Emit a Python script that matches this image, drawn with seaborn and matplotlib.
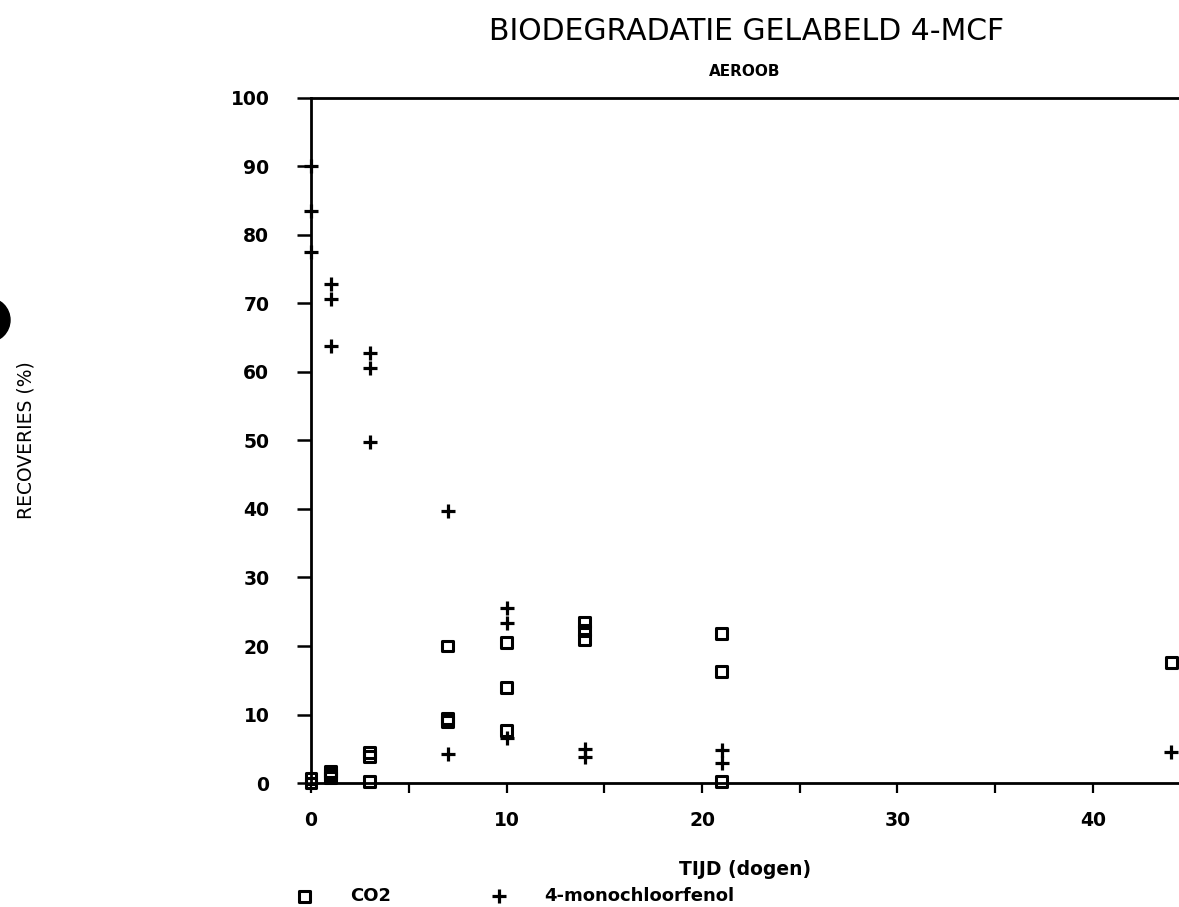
import matplotlib
matplotlib.use("Agg")
import matplotlib.pyplot as plt
import seaborn as sns
import pandas as pd
from matplotlib.patches import Ellipse

# CO2 recovery (%) per sampling day
co2_days = [0, 0, 1, 1, 1, 3, 3, 3, 7, 7, 7, 10, 10, 10, 14, 14, 14, 21, 21, 21, 44]
co2_vals = [0.6, 0.0, 1.7, 1.2, 0.8, 4.4, 3.9, 0.2, 20.0, 9.4, 9.0,
            20.5, 14.0, 7.6, 23.4, 22.2, 21.0, 21.8, 16.3, 0.2, 17.6]

# 4-monochloorfenol recovery (%) per sampling day
mcf_days = [0, 0, 0, 1, 1, 1, 3, 3, 3, 7, 7, 10, 10, 10, 14, 14, 21, 21, 44]
mcf_vals = [90.0, 83.5, 77.5, 72.8, 70.6, 63.8, 62.8, 60.6, 49.8, 39.7, 4.2,
            25.6, 23.3, 6.6, 4.9, 3.8, 4.8, 2.9, 4.5]

x_major = [0, 10, 20, 30, 40]
x_minor = [5, 15, 25, 35]
y_major = list(range(0, 101, 10))

co2 = pd.DataFrame({"dag": co2_days, "recovery": co2_vals})
mcf = pd.DataFrame({"dag": mcf_days, "recovery": mcf_vals})

sns.set_style("white")
plt.rcParams["font.family"] = ["DejaVu Sans"]
plt.rcParams["text.color"] = "black"
plt.rcParams["axes.labelcolor"] = "black"
plt.rcParams["xtick.color"] = "black"
plt.rcParams["ytick.color"] = "black"

fig = plt.figure(figsize=(11.79, 9.07), dpi=100)
ax = fig.add_axes([0.2638, 0.1367, 0.7362, 0.7553])

sns.scatterplot(data=co2, x="dag", y="recovery", marker="s", s=62,
                linewidth=2.2, label="CO2", ax=ax, clip_on=False, zorder=4)
sq = ax.collections[-1]
sq.set_facecolor("none")
sq.set_edgecolor("black")

sns.scatterplot(data=mcf, x="dag", y="recovery", marker="+", s=115,
                linewidth=2.3, color="black", label="4-monochloorfenol",
                ax=ax, clip_on=False, zorder=4)

ax.set_xlim(0, 44.4)
ax.set_ylim(0, 100)
ax.set_xticks(x_major)
ax.set_xticks(x_minor, minor=True)
ax.set_yticks(y_major)

ax.tick_params(axis="y", which="major", direction="out", length=10, width=1.8,
               pad=20, labelsize=13.5, color="black", left=True)
ax.tick_params(axis="x", which="both", direction="out", length=7, width=1.6,
               pad=13, labelsize=13.5, color="black", bottom=True)
for lab in ax.get_xticklabels() + ax.get_yticklabels():
    lab.set_fontweight("bold")

for side in ("left", "bottom", "top"):
    ax.spines[side].set_visible(True)
    ax.spines[side].set_linewidth(2.0)
    ax.spines[side].set_color("black")
ax.spines["right"].set_visible(False)

ax.set_xlabel("TIJD (dogen)", fontsize=13.5, fontweight="bold", labelpad=22)
ax.set_ylabel("RECOVERIES (%)", fontsize=13.5)
ax.yaxis.set_label_coords(-0.317, 0.5)

ax.set_title("AEROOB", fontsize=11, fontweight="bold", pad=16)
fig.text(0.633, 1 - 32 / 907, "BIODEGRADATIE GELABELD 4-MCF",
         ha="center", va="center", fontsize=21.5)

ax.legend(loc="center left", bbox_to_anchor=(0.251, 1 - 896 / 907),
          bbox_transform=fig.transFigure, ncol=2, frameon=False,
          prop={"size": 13, "weight": "bold"}, handlelength=1.0,
          handletextpad=2.0, columnspacing=5.5, borderpad=0,
          borderaxespad=0, scatterpoints=1)

# punch hole at the left margin of the sheet
fig.patches.append(Ellipse((-12 / 1179, 1 - 320 / 907), 44 / 1179, 44 / 907,
                           transform=fig.transFigure, color="black",
                           zorder=10))

fig.savefig("out.png", dpi=100, facecolor="white")
